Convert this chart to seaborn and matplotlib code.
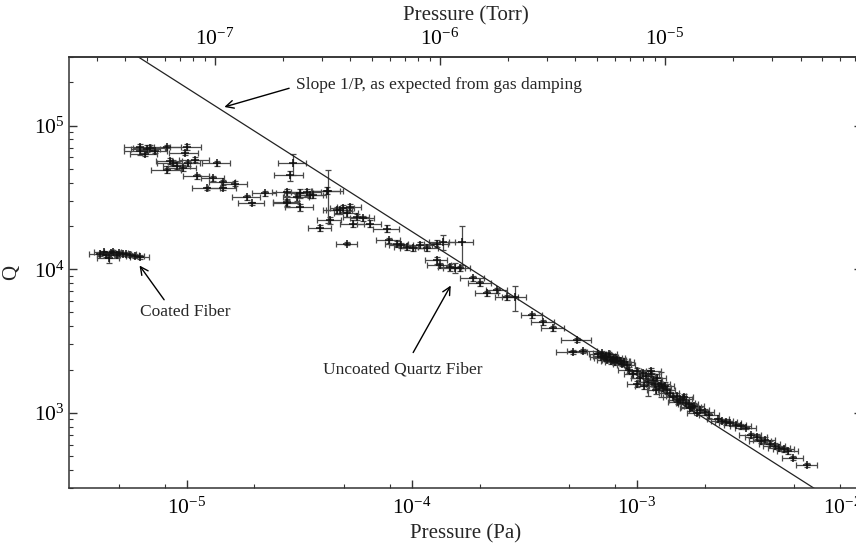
import numpy as np
import pandas as pd
import matplotlib
matplotlib.use('Agg')
import matplotlib.pyplot as plt
import seaborn as sns
from matplotlib.ticker import LogLocator, NullFormatter, FixedLocator

# Coated fiber: pressure (Pa), Q, relative errors
coated_P = [4.1e-6, 4.3e-6, 4.4e-6, 4.5e-6, 4.6e-6, 4.7e-6, 4.9e-6, 5.0e-6,
            5.2e-6, 5.4e-6, 5.6e-6, 5.9e-6, 6.2e-6]
coated_Q = [1.27e4, 1.31e4, 1.25e4, 1.20e4, 1.29e4, 1.32e4, 1.26e4, 1.30e4,
            1.28e4, 1.27e4, 1.26e4, 1.24e4, 1.22e4]
coated_dP = [0.10, 0.10, 0.09, 0.11, 0.10, 0.09, 0.10, 0.10, 0.09, 0.10, 0.10, 0.09, 0.10]
coated_dQ = [0.03, 0.03, 0.03, 0.08, 0.03, 0.03, 0.03, 0.03, 0.03, 0.03, 0.03, 0.03, 0.03]

# Uncoated quartz fiber
uncoated_P = [
    6.2e-6, 6.65e-6, 6.5e-6, 6.9e-6, 6.2e-6, 7.2e-6, 8.2e-6, 1.0e-5, 9.8e-6,
    8.7e-6, 9.1e-6, 8.2e-6, 9.6e-6, 1.09e-5, 1.36e-5, 8.4e-6, 1.01e-5,
    1.11e-5, 1.23e-5, 1.31e-5, 1.45e-5, 1.45e-5, 1.64e-5, 1.85e-5, 1.95e-5, 2.22e-5,
    2.96e-5, 2.87e-5, 2.79e-5, 3.09e-5, 3.42e-5, 3.18e-5, 2.79e-5, 3.63e-5, 3.18e-5,
    3.53e-5, 2.79e-5, 4.2e-5, 4.25e-5,
    3.91e-5, 4.65e-5, 4.94e-5, 5.31e-5, 4.79e-5, 5.15e-5, 4.33e-5, 5.7e-5, 5.47e-5,
    6.07e-5, 6.52e-5, 7.75e-5, 5.15e-5,
    8.6e-5, 9.5e-5, 1.09e-4, 1.01e-4, 1.17e-4, 1.29e-4, 1.37e-4, 7.9e-5, 9.0e-5,
    1.29e-4, 1.33e-4, 1.48e-4, 1.64e-4, 1.67e-4, 1.55e-4,
    1.87e-4, 2.01e-4, 2.16e-4, 2.39e-4, 2.65e-4, 2.87e-4, 3.42e-4, 3.83e-4, 4.24e-4,
    5.42e-4, 5.2e-4, 5.76e-4,
    6.7e-4, 6.9e-4, 7.0e-4, 7.2e-4, 7.3e-4, 7.4e-4, 7.6e-4, 7.7e-4, 7.9e-4, 8.0e-4,
    8.2e-4, 8.4e-4, 8.6e-4, 8.8e-4, 9.0e-4, 7.1e-4, 7.5e-4, 7.8e-4, 8.1e-4, 8.5e-4,
    9.2e-4, 9.6e-4, 1.0e-3, 1.03e-3, 1.06e-3, 1.1e-3, 1.12e-3, 1.15e-3, 1.18e-3, 1.2e-3,
    1.23e-3, 1.25e-3, 1.28e-3, 1.3e-3, 1.33e-3, 1.36e-3, 1.0e-3, 1.08e-3, 1.16e-3, 1.22e-3,
    1.4e-3, 1.45e-3, 1.5e-3, 1.55e-3, 1.6e-3, 1.65e-3, 1.7e-3, 1.75e-3, 1.8e-3, 1.9e-3,
    2.0e-3, 2.1e-3, 1.52e-3, 1.62e-3, 1.72e-3, 1.85e-3,
    2.3e-3, 2.4e-3, 2.5e-3, 2.6e-3, 2.75e-3, 2.9e-3, 3.05e-3,
    3.2e-3, 3.4e-3, 3.55e-3, 3.7e-3, 3.9e-3, 4.1e-3, 4.3e-3, 4.5e-3, 4.7e-3,
    4.94e-3, 5.7e-3,
]
uncoated_Q = [
    7.14e4, 6.92e4, 6.38e4, 7.0e4, 6.6e4, 6.7e4, 7.14e4, 7.14e4, 6.45e4,
    5.53e4, 5.27e4, 4.87e4, 5.10e4, 5.80e4, 5.45e4, 5.65e4, 5.45e4,
    4.42e4, 3.65e4, 4.28e4, 4.02e4, 3.65e4, 3.95e4, 3.16e4, 2.87e4, 3.37e4,
    5.45e4, 4.5e4, 3.42e4, 3.16e4, 3.42e4, 2.69e4, 2.92e4, 3.27e4, 3.37e4,
    3.27e4, 2.87e4, 3.53e4, 3.5e4,
    1.95e4, 2.57e4, 2.65e4, 2.69e4, 2.57e4, 2.45e4, 2.19e4, 2.30e4, 2.08e4,
    2.26e4, 2.08e4, 1.92e4, 1.51e4,
    1.51e4, 1.42e4, 1.47e4, 1.40e4, 1.40e4, 1.51e4, 1.54e4, 1.59e4, 1.47e4,
    1.15e4, 1.07e4, 1.03e4, 1.02e4, 1.54e4, 1.02e4,
    8.66e3, 8.0e3, 6.81e3, 7.15e3, 6.39e3, 6.39e3, 4.79e3, 4.28e3, 3.89e3,
    3.21e3, 2.65e3, 2.69e3,
    2.55e3, 2.45e3, 2.6e3, 2.4e3, 2.5e3, 2.35e3, 2.45e3, 2.3e3, 2.4e3, 2.25e3,
    2.35e3, 2.3e3, 2.2e3, 2.25e3, 2.15e3, 2.5e3, 2.55e3, 2.35e3, 2.4e3, 2.3e3,
    2.0e3, 1.85e3, 1.95e3, 1.75e3, 1.9e3, 1.8e3, 1.65e3, 1.85e3, 1.7e3, 1.6e3,
    1.75e3, 1.55e3, 1.6e3, 1.5e3, 1.55e3, 1.45e3, 1.6e3, 1.55e3, 1.95e3, 1.45e3,
    1.38e3, 1.3e3, 1.32e3, 1.22e3, 1.25e3, 1.18e3, 1.15e3, 1.1e3, 1.12e3, 1.05e3,
    1.02e3, 960, 1.2e3, 1.28e3, 1.08e3, 1.0e3,
    900, 880, 860, 850, 830, 810, 790,
    700, 680, 640, 650, 610, 590, 570, 560, 540,
    487, 435,
]
uncoated_dP = [
    0.15, 0.15, 0.14, 0.16, 0.15, 0.14, 0.15, 0.16, 0.15,
    0.15, 0.14, 0.15, 0.14, 0.15, 0.14, 0.13, 0.14,
    0.13, 0.14, 0.12, 0.13, 0.14, 0.13, 0.14, 0.13, 0.12,
    0.14, 0.15, 0.14, 0.13, 0.15, 0.14, 0.13, 0.14, 0.15, 0.14, 0.13, 0.14, 0.16,
    0.12, 0.13, 0.12, 0.12, 0.13, 0.12, 0.12, 0.13, 0.12, 0.12, 0.12, 0.13, 0.11,
    0.12, 0.12, 0.13, 0.12, 0.12, 0.12, 0.13, 0.12, 0.12,
    0.11, 0.12, 0.12, 0.11, 0.12, 0.11,
    0.12, 0.12, 0.12, 0.11, 0.12, 0.12, 0.11, 0.12, 0.12, 0.15, 0.16, 0.15,
    0.09, 0.10, 0.09, 0.10, 0.09, 0.10, 0.09, 0.10, 0.09, 0.10,
    0.09, 0.10, 0.09, 0.10, 0.09, 0.10, 0.09, 0.10, 0.09, 0.10,
    0.10, 0.09, 0.10, 0.09, 0.10, 0.09, 0.10, 0.09, 0.10, 0.09,
    0.10, 0.09, 0.10, 0.09, 0.10, 0.09, 0.10, 0.09, 0.10, 0.09,
    0.10, 0.10, 0.10, 0.10, 0.10, 0.10, 0.10, 0.10, 0.10, 0.10,
    0.10, 0.10, 0.10, 0.10, 0.10, 0.10,
    0.11, 0.11, 0.11, 0.11, 0.11, 0.11, 0.11,
    0.11, 0.11, 0.11, 0.11, 0.11, 0.11, 0.11, 0.11, 0.11,
    0.11, 0.11,
]
uncoated_dQ = [
    0.04, 0.05, 0.04, 0.04, 0.05, 0.04, 0.03, 0.05, 0.04,
    0.04, 0.05, 0.04, 0.05, 0.04, 0.04, 0.05, 0.04,
    0.04, 0.03, 0.04, 0.04, 0.03, 0.04, 0.04, 0.03, 0.04,
    0.17, 0.08, 0.06, 0.05, 0.06, 0.05, 0.06, 0.05, 0.07, 0.05, 0.06, 0.05, 0.40,
    0.05, 0.05, 0.06, 0.05, 0.05, 0.05, 0.06, 0.05, 0.05, 0.04, 0.05, 0.05, 0.03,
    0.04, 0.04, 0.05, 0.04, 0.04, 0.05, 0.12, 0.04, 0.04,
    0.05, 0.04, 0.05, 0.04, 0.30, 0.08,
    0.04, 0.04, 0.04, 0.04, 0.04, 0.20, 0.04, 0.04, 0.04, 0.03, 0.03, 0.03,
    0.04, 0.05, 0.04, 0.03, 0.05, 0.04, 0.04, 0.05, 0.03, 0.04,
    0.05, 0.04, 0.04, 0.05, 0.04, 0.03, 0.04, 0.05, 0.04, 0.04,
    0.05, 0.06, 0.05, 0.07, 0.05, 0.06, 0.20, 0.05, 0.06, 0.05,
    0.06, 0.05, 0.20, 0.06, 0.05, 0.06, 0.05, 0.06, 0.05, 0.06,
    0.04, 0.05, 0.04, 0.04, 0.05, 0.04, 0.04, 0.05, 0.04, 0.04,
    0.05, 0.04, 0.04, 0.05, 0.04, 0.04,
    0.03, 0.03, 0.04, 0.03, 0.03, 0.04, 0.03,
    0.04, 0.04, 0.04, 0.04, 0.04, 0.04, 0.04, 0.04, 0.04,
    0.03, 0.03,
]

# 1/P line expected from gas damping, Q = C / P
gas_C = 1.83
line_P = [5.0e-6, 1.2e-2]

pa_ticks = [1e-5, 1e-4, 1e-3, 1e-2]
torr_ticks = [1e-7, 1e-6, 1e-5]
PA_PER_TORR = 133.322

sns.set_style('ticks')
plt.rcParams['font.family'] = ['Liberation Serif', 'DejaVu Serif']
plt.rcParams['mathtext.fontset'] = 'custom'
plt.rcParams['mathtext.rm'] = 'Liberation Serif'
plt.rcParams['mathtext.it'] = 'Liberation Serif:italic'
plt.rcParams['axes.linewidth'] = 1.1
plt.rcParams['axes.edgecolor'] = '#333333'

fig = plt.figure(figsize=(8.56, 5.51), dpi=100)
ax = fig.add_axes([69 / 856, 63 / 551, 793 / 856, 431 / 551])
ax.set_xscale('log')
ax.set_yscale('log')

df = pd.DataFrame({
    'P': np.concatenate([coated_P, uncoated_P]),
    'Q': np.concatenate([coated_Q, uncoated_Q]),
    'dP': np.concatenate([coated_dP, uncoated_dP]),
    'dQ': np.concatenate([coated_dQ, uncoated_dQ]),
})

ax.errorbar(df['P'], df['Q'], xerr=df['P'] * df['dP'], yerr=df['Q'] * df['dQ'],
            fmt='none', ecolor='#4a4a4a', elinewidth=0.9, capsize=2.5, capthick=0.9)
sns.scatterplot(data=df, x='P', y='Q', marker='+', color='#111111', s=26,
                linewidth=1.1, ax=ax, legend=False, zorder=3)

lp = np.array(line_P)
sns.lineplot(x=lp, y=gas_C / lp, color='#222222', lw=0.9, ax=ax)

ax.set_xlim(3.0e-6, 1.0e-2)
ax.set_ylim(3.0e2, 3.0e5)

ax.xaxis.set_major_locator(FixedLocator(pa_ticks))
ax.xaxis.set_minor_locator(LogLocator(base=10, subs=[2, 5, 8], numticks=10))
ax.xaxis.set_minor_formatter(NullFormatter())
ax.yaxis.set_major_locator(LogLocator(base=10, numticks=10))
ax.yaxis.set_minor_locator(LogLocator(base=10, subs=np.arange(2, 10), numticks=10))
ax.yaxis.set_minor_formatter(NullFormatter())
ax.tick_params(which='both', direction='in', top=False, right=True, colors='#333333')
ax.tick_params(which='major', length=6, width=1, labelsize=15.5, pad=7, labelcolor='black')
ax.tick_params(axis='y', which='major', pad=3)
ax.tick_params(which='minor', length=3, width=0.8)
ax.set_xlabel('Pressure (Pa)', fontsize=15, labelpad=4)
ax.set_ylabel('Q', fontsize=15, labelpad=9)

# last bottom label sits at the figure edge
fig.canvas.draw()
for lab in ax.get_xticklabels():
    if lab.get_position()[0] >= 9.9e-3:
        lab.set_horizontalalignment('right')

secax = ax.secondary_xaxis('top', functions=(lambda p: p / PA_PER_TORR,
                                              lambda t: t * PA_PER_TORR))
secax.xaxis.set_major_locator(FixedLocator(torr_ticks))
secax.xaxis.set_minor_locator(LogLocator(base=10, subs=np.arange(2, 10), numticks=10))
secax.xaxis.set_minor_formatter(NullFormatter())
secax.tick_params(which='both', direction='in', colors='#333333')
secax.tick_params(which='major', length=6, width=1, labelsize=15.5, pad=5, labelcolor='black')
secax.tick_params(which='minor', length=3, width=0.8)
secax.set_xlabel('Pressure (Torr)', fontsize=15, labelpad=6)

# annotations
arrow = dict(arrowstyle='->', lw=1.0, color='black', mutation_scale=14)
ax.annotate('', xy=(1.43e-5, 1.33e5), xytext=(2.93e-5, 1.84e5), arrowprops=arrow)
ax.text(3.07e-5, 1.90e5, 'Slope 1/P, as expected from gas damping',
        fontsize=12.5, ha='left', va='center')
ax.annotate('', xy=(6.07e-6, 1.10e4), xytext=(8.07e-6, 5.91e3), arrowprops=arrow)
ax.text(9.82e-6, 5.02e3, 'Coated Fiber', fontsize=12.5, ha='center', va='center')
ax.annotate('', xy=(1.51e-4, 8.0e3), xytext=(1.0e-4, 2.53e3), arrowprops=arrow)
ax.text(9.14e-5, 1.99e3, 'Uncoated Quartz Fiber', fontsize=12.5, ha='center', va='center')

fig.savefig('out.png', dpi=100)
